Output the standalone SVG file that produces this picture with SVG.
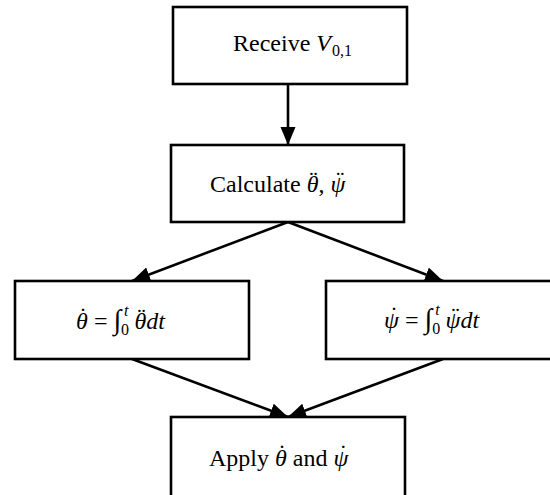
<svg xmlns="http://www.w3.org/2000/svg" width="550" height="495" viewBox="0 0 550 495">
<defs>
<style>
.box{fill:#fff;stroke:#000;stroke-width:2.6}
.t{font-family:"Liberation Serif","DejaVu Serif",serif;font-size:24px;fill:#000}
.i{font-style:italic}
.s{font-size:16px}
.g{font-size:28px}
.c{stroke:#000;stroke-width:2.6;fill:none}
</style>
<marker id="ah" markerUnits="userSpaceOnUse" markerWidth="20" markerHeight="16" refX="18" refY="7.5" orient="auto">
<path d="M0,0 L18,7.5 L0,15 Z" fill="#000"/>
</marker>
</defs>
<g id="connectors">
<line class="c" x1="288" y1="84" x2="288" y2="145" marker-end="url(#ah)"/>
<line class="c" x1="288" y1="222" x2="132" y2="281" marker-end="url(#ah)"/>
<line class="c" x1="288" y1="222" x2="443" y2="281" marker-end="url(#ah)"/>
<line class="c" x1="132" y1="359" x2="288" y2="417" marker-end="url(#ah)"/>
<line class="c" x1="443" y1="359" x2="288" y2="417" marker-end="url(#ah)"/>
</g>
<g id="receive">
<rect class="box" x="173" y="7" width="234" height="77"/>
<text class="t" x="233" y="51">Receive <tspan class="i">V</tspan><tspan class="s" dx="1" dy="5">0,1</tspan></text>
</g>
<g id="calculate">
<rect class="box" x="171" y="145" width="233" height="77"/>
<text class="t" x="210" y="192">Calculate <tspan class="i">θ</tspan><tspan dx="-8.9" dy="-5">¨</tspan><tspan dx="0.9" dy="5">, </tspan><tspan class="i">ψ</tspan><tspan dx="-9" dy="-5">¨</tspan></text>
</g>
<g id="theta">
<rect class="box" x="15" y="281" width="234" height="78"/>
<text class="t" x="76" y="329"><tspan class="i">θ</tspan><tspan dx="-8.9" dy="-5">˙</tspan><tspan dx="1" dy="5"> = </tspan><tspan class="g">∫</tspan><tspan class="s" dy="6">0</tspan><tspan class="s i" dx="-5" dy="-19">t</tspan><tspan class="i" dx="6" dy="13">θ</tspan><tspan dx="-8.9" dy="-5">¨</tspan><tspan class="i" dx="0.9" dy="5">dt</tspan></text>
</g>
<g id="psi">
<rect class="box" x="326" y="281" width="234" height="78"/>
<text class="t" x="384" y="328"><tspan class="i">ψ</tspan><tspan dx="-9" dy="-5">˙</tspan><tspan dx="1" dy="5"> = </tspan><tspan class="g">∫</tspan><tspan class="s" dy="6">0</tspan><tspan class="s i" dx="-5" dy="-19">t</tspan><tspan class="i" dx="6" dy="13">ψ</tspan><tspan dx="-9" dy="-5">¨</tspan><tspan class="i" dx="1" dy="5">dt</tspan></text>
</g>
<g id="apply">
<rect class="box" x="171" y="417" width="234" height="90"/>
<text class="t" x="209" y="466">Apply <tspan class="i">θ</tspan><tspan dx="-8.9" dy="-5">˙</tspan><tspan dx="0.9" dy="5"> and </tspan><tspan class="i">ψ</tspan><tspan dx="-9" dy="-5">˙</tspan></text>
</g>
</svg>
